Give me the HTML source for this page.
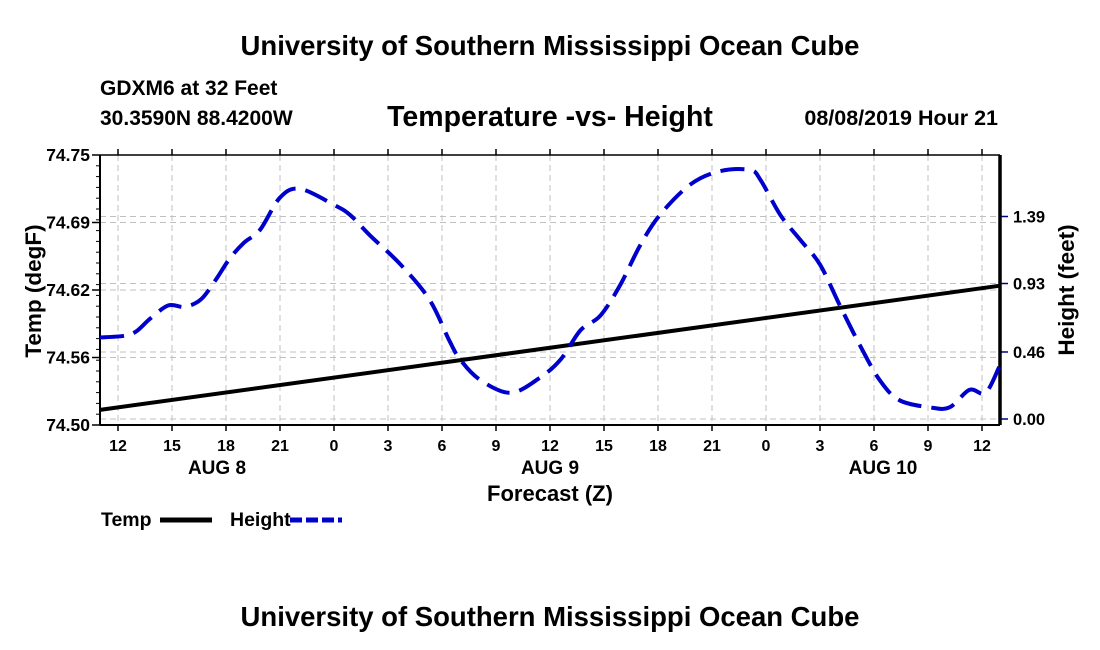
<!DOCTYPE html>
<html><head><meta charset="utf-8"><style>
html,body{margin:0;padding:0;background:#fff;}
svg{display:block;font-family:"Liberation Sans",sans-serif;font-weight:bold;}
</style></head><body>
<svg id="chart" width="1100" height="650" viewBox="0 0 1100 650">
<text x="550" y="55" text-anchor="middle" font-size="27.5">University of Southern Mississippi Ocean Cube</text>
<text x="100" y="95" font-size="21">GDXM6 at 32 Feet</text>
<text x="100" y="125" font-size="21">30.3590N 88.4200W</text>
<text x="550" y="126" text-anchor="middle" font-size="28.5">Temperature -vs- Height</text>
<text x="998" y="125" text-anchor="end" font-size="21.5">08/08/2019 Hour 21</text>
<g id="grid"></g>
<g id="axes"></g>
<g id="series"></g>
<text transform="translate(41,291) rotate(-90)" text-anchor="middle" font-size="22.5">Temp (degF)</text>
<text transform="translate(1074,290) rotate(-90)" text-anchor="middle" font-size="22.5">Height (feet)</text>
<text x="550" y="501" text-anchor="middle" font-size="22">Forecast (Z)</text>
<g>
<text x="101" y="526" font-size="19.5">Temp</text>
<line x1="160" y1="520" x2="212" y2="520" stroke="#000" stroke-width="5"/>
<text x="230" y="526" font-size="19.5">Height</text>
<line x1="290" y1="520" x2="342" y2="520" stroke="#0000cc" stroke-width="5" stroke-dasharray="12,4"/>
</g>
<text x="550" y="626" text-anchor="middle" font-size="27.5">University of Southern Mississippi Ocean Cube</text>
</svg>
<script>
// data
const xTickLabels = ['12','15','18','21','0','3','6','9','12','15','18','21','0','3','6','9','12'];
const xTickHours = [1,4,7,10,13,16,19,22,25,28,31,34,37,40,43,46,49];
const dayLabels = ['AUG 8','AUG 9','AUG 10'];
const dayHours = [6.5,25,43.5];
const leftTicks = [74.5,74.5625,74.625,74.6875,74.75];
const leftTickLabels = ['74.50','74.56','74.62','74.69','74.75'];
const rightTicks = [0.00,0.46,0.93,1.39];
const tempHours = [0,50];
const tempValues = [74.514,74.629];
const heightHours = [0,1.3,2,2.8,3.8,4.7,5.6,6.4,7.2,8,8.9,10,11.1,13,13.9,15,16.7,18.3,19.4,20,21.1,22.8,24.4,25.6,26.7,27.8,28.9,30,31.1,32.8,34.4,36.1,36.7,37.8,38.9,40,41.1,42.2,43.3,44.4,46.1,47.2,48.3,49.2,50];
const heightValues = [0.56,0.57,0.60,0.69,0.78,0.77,0.82,0.95,1.10,1.21,1.30,1.52,1.58,1.47,1.40,1.26,1.06,0.82,0.54,0.41,0.27,0.18,0.28,0.41,0.61,0.71,0.92,1.19,1.40,1.61,1.70,1.71,1.64,1.40,1.23,1.06,0.78,0.51,0.27,0.13,0.08,0.08,0.20,0.18,0.37];

const L=100,R=1000,T=155,B=425;
const xS=h=>L+h*(R-L)/50;
const yL=v=>B-(v-74.5)*(B-T)/0.25;
const yR=v=>419-v*202.5/1.39;
const NS='http://www.w3.org/2000/svg';
function mk(tag,attrs,parent){const e=document.createElementNS(NS,tag);for(const k in attrs)e.setAttribute(k,attrs[k]);parent.appendChild(e);return e;}
const grid=document.getElementById('grid'),axes=document.getElementById('axes'),series=document.getElementById('series');
const gs={stroke:'#c0c0c0','stroke-width':1,'stroke-dasharray':'6,4'};
xTickHours.forEach((h,i)=>{
  const x=xS(h);
  let g=mk('line',Object.assign({x1:x,y1:T,x2:x,y2:B},gs),grid);
  
  
  mk('line',{x1:x,y1:T,x2:x,y2:T-6,stroke:'#000','stroke-width':1.5},axes);
  mk('line',{x1:x,y1:B,x2:x,y2:B+6,stroke:'#000','stroke-width':1.5},axes);
  const t=mk('text',{x:x,y:B+26,'text-anchor':'middle','font-size':16},axes);
  t.textContent=xTickLabels[i];
  
  
});
dayLabels.forEach((d,i)=>{
  const t=mk('text',{x:xS(dayHours[i]),y:474,'text-anchor':'middle','font-size':19},axes);
  t.textContent=d;
  
  
});
leftTicks.forEach((v,i)=>{
  const y=yL(v);
  if(v>74.5&&v<74.75){
    let g=mk('line',Object.assign({x1:L,y1:y,x2:R,y2:y},gs),grid);
    
    
  }
  mk('line',{x1:L,y1:y,x2:L-8,y2:y,stroke:'#000','stroke-width':1.5},axes);
  const t=mk('text',{x:L-10,y:y+6,'text-anchor':'end','font-size':17.5},axes);
  t.textContent=leftTickLabels[i];
  
  
});
for(let k=1;k<25;k++){const y=B-k*(B-T)/25;mk('line',{x1:L,y1:y,x2:L-4,y2:y,stroke:'#000','stroke-width':1},axes);}
rightTicks.forEach(v=>{
  const y=yR(v);
  let g=mk('line',Object.assign({x1:L,y1:y,x2:R,y2:y},gs),grid);
  
  
  mk('line',{x1:R,y1:y,x2:R+8,y2:y,stroke:'#000080','stroke-width':1.5},axes);
  const t=mk('text',{x:R+13,y:y+6,'font-size':16.5},axes);
  t.textContent=v.toFixed(2);
  
  
});
mk('line',{x1:L,y1:T,x2:R,y2:T,stroke:'#000','stroke-width':1.5},axes);
mk('line',{x1:L,y1:B,x2:R,y2:B,stroke:'#000','stroke-width':2},axes);
mk('line',{x1:L,y1:T,x2:L,y2:B,stroke:'#000','stroke-width':2},axes);
mk('line',{x1:R,y1:T,x2:R,y2:B,stroke:'#000','stroke-width':3.5},axes);
const tp=mk('polyline',{points:tempHours.map((h,i)=>xS(h)+','+yL(tempValues[i])).join(' '),fill:'none',stroke:'#000','stroke-width':4},series);


const pts=heightHours.map((h,i)=>[xS(h),yR(heightValues[i])]);
let d='M'+pts[0][0]+','+pts[0][1];
for(let i=0;i<pts.length-1;i++){
  const p0=pts[Math.max(0,i-1)],p1=pts[i],p2=pts[i+1],p3=pts[Math.min(pts.length-1,i+2)];
  const c1=[p1[0]+(p2[0]-p0[0])/6,p1[1]+(p2[1]-p0[1])/6],c2=[p2[0]-(p3[0]-p1[0])/6,p2[1]-(p3[1]-p1[1])/6];
  d+=' C'+c1.join(',')+' '+c2.join(',')+' '+p2.join(',');
}
const hp=mk('path',{d:d,fill:'none',stroke:'#0000cc','stroke-width':4,'stroke-dasharray':'24,10'},series);


</script>
</body></html>
